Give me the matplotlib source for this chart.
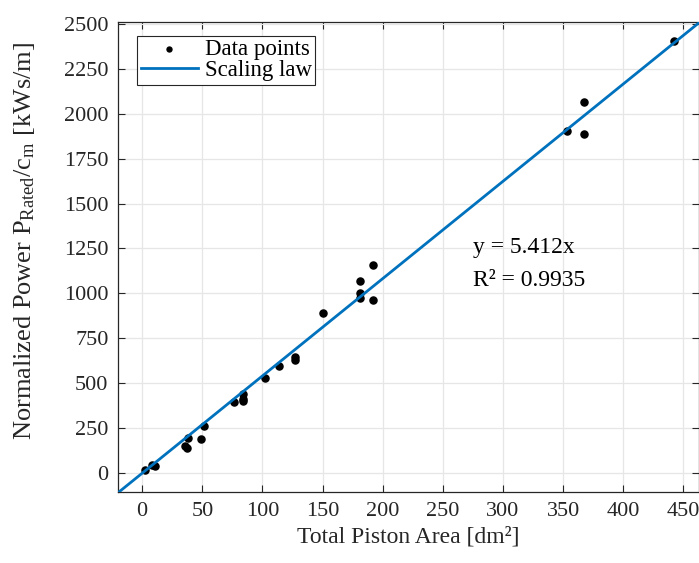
import matplotlib
import numpy as np

matplotlib.use("Agg")
import matplotlib.pyplot as plt  # noqa: E402

# Data
area_dm2 = [2, 8, 11, 36, 37, 38, 49, 51, 76, 84, 84, 84, 102, 114,
            127, 127, 150, 181, 181, 181, 192, 192, 353, 367, 367, 442]
power_norm = [15, 45, 38, 152, 140, 195, 190, 260, 396, 440, 415, 400, 527, 598,
              648, 630, 890, 1070, 1000, 975, 1160, 962, 1905, 2065, 1885, 2405]
slope = 5.412
r_squared = 0.9935
fit_x = [-20, 465]

plt.rcParams["font.family"] = ["Liberation Serif", "DejaVu Serif"]
plt.rcParams["mathtext.fontset"] = "custom"
plt.rcParams["mathtext.rm"] = "Liberation Serif"
plt.rcParams["mathtext.it"] = "Liberation Serif:italic"

fig = plt.figure(figsize=(6.99, 5.63), dpi=100)
ax = fig.add_axes([0.169, 0.126, 0.831, 0.835])

ax.grid(True, color="#e6e6e6", lw=0.9, zorder=0)
ax.scatter(area_dm2, power_norm, s=26, color="k", zorder=3, label="Data points")
fx = np.array(fit_x, dtype=float)
ax.plot(fx, slope * fx, color="#0072BD", lw=2.0, zorder=4, label="Scaling law")

ax.text(275, 1258, f"y = {slope}x", fontsize=17, va="center", ha="left")
ax.text(275, 1070, f"R² = {r_squared}", fontsize=17, va="center", ha="left")

ax.set_xlim(-20, 463)
ax.set_ylim(-105, 2510)
ax.set_xticks(np.arange(0, 451, 50))
ax.set_yticks(np.arange(0, 2501, 250))
ax.tick_params(direction="in", length=5, width=0.8, labelsize=16, pad=7,
               colors="#262626", top=True, right=True)
for sp in ax.spines.values():
    sp.set_color("#262626")
    sp.set_linewidth(0.9)

ax.set_xlabel("Total Piston Area [dm²]", fontsize=17, color="#262626")
ax.set_ylabel(r"Normalized Power P$_{\mathregular{Rated}}$/c$_{\mathregular{m}}$ [kWs/m]",
              fontsize=19, color="#262626")
ax.yaxis.set_label_coords(-0.14, 0.535)

leg = ax.legend(loc="upper left", bbox_to_anchor=(0.025, 0.98), fontsize=16.5,
                fancybox=False, edgecolor="#262626", framealpha=1, markerscale=0.7,
                handlelength=2.5, handletextpad=0.3, borderpad=0.15,
                labelspacing=0.0, borderaxespad=0.2)
leg.get_frame().set_linewidth(0.8)

fig.savefig("out.png", dpi=100)
